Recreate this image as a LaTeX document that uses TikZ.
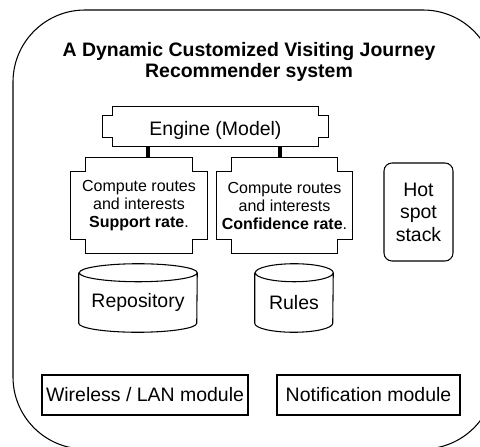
\documentclass[tikz,border=0pt]{standalone}
\usepackage{fontspec}
\setmainfont{Liberation Sans}

% Box with cut-in (stepped) corners: #1 node, #2 notch width, #3 notch depth
\newcommand\notchframe[3]{%
  \draw[frame] ([xshift=#2]#1.north west) -- ([xshift=-#2]#1.north east)
    -- ++(0pt,-#3) -- ++(#2,0pt) -- ([yshift=#3]#1.south east)
    -- ++(-#2,0pt) -- ++(0pt,-#3) -- ([xshift=#2]#1.south west)
    -- ++(0pt,#3) -- ++(-#2,0pt) -- ([yshift=-#3]#1.north west)
    -- ++(#2,0pt) -- cycle;}

% Database cylinder around a node: #1 node, #2 x radius, #3 y radius
\newcommand\cylframe[3]{%
  \draw[frame] (#1.north west) -- ([yshift=#3]#1.south west)
    arc[start angle=180,end angle=360,x radius=#2,y radius=#3]
    -- (#1.north east)
    arc[start angle=0,end angle=360,x radius=#2,y radius=#3];}

\tikzset{
  frame/.style={draw=black, line width=0.8pt},
  lbl/.style={inner sep=0pt, font=\fontsize{14.6pt}{16.9pt}\selectfont},
  small/.style={inner sep=0pt, font=\fontsize{12pt}{13.5pt}\selectfont},
  bar/.style={draw=black, line width=3pt},
}

\begin{document}
\begin{tikzpicture}[x=0.75pt,y=0.75pt]
  \useasboundingbox (0,0) rectangle (480,-447);

  % outer system boundary
  \begin{scope}
    \clip (0,0) rectangle (480,-447);
    \draw[frame, rounded corners=54pt] (13,-10) rectangle (495,-449);
  \end{scope}

  % title
  \node[inner sep=0pt, align=center,
        font=\fontsize{14.6pt}{15.75pt}\selectfont\bfseries] (title)
    at (249,-61.5) {A Dynamic Customized Visiting Journey\\Recommender system};

  % engine
  \node[lbl, minimum width=168.75pt, minimum height=29.25pt,
        text height=12.8pt, text depth=0pt] (engine)
    at (215.5,-126.5) {Engine (Model)};
  \notchframe{engine}{7.5pt}{6.75pt}

  % computation units
  \node[small, align=center, minimum width=102pt, minimum height=71.25pt] (cmpL)
    at (139,-205.5) {Compute routes\\and interests\\\textbf{Support rate}.};
  \notchframe{cmpL}{11.25pt}{10.5pt}

  \node[small, align=center, minimum width=102pt, minimum height=71.25pt] (cmpR)
    at (284.5,-205.5) {Compute routes\\and interests\\\textbf{Confidence rate}.};
  \notchframe{cmpR}{11.25pt}{10.5pt}

  % links engine -> units
  \draw[bar] ([xshift=-50.6pt]engine.south) -- ([xshift=-50.6pt]engine.south |- cmpL.north);
  \draw[bar] ([xshift=48.4pt]engine.south) -- ([xshift=48.4pt]engine.south |- cmpR.north);

  % hot spot stack
  \node[lbl, frame, rounded corners=6pt, align=center,
        minimum width=51.75pt, minimum height=73.5pt] (hot)
    at (418.5,-212) {Hot\\spot\\stack};

  % data stores
  \node[lbl, minimum width=88.5pt, minimum height=44.25pt] (repo)
    at (138,-302.5) {Repository};
  \cylframe{repo}{44.25pt}{6.75pt}

  \node[lbl, minimum width=58.5pt, minimum height=44.25pt] (rules)
    at (294,-302.5) {Rules};
  \cylframe{rules}{29.25pt}{6.75pt}

  % modules
  \node[lbl, frame, minimum width=154.5pt, minimum height=30pt] (wlan)
    at (145,-395) {Wireless / LAN module};
  \node[lbl, frame, minimum width=137.25pt, minimum height=30pt] (notif)
    at (368.5,-395) {Notification module};
\end{tikzpicture}
\end{document}
